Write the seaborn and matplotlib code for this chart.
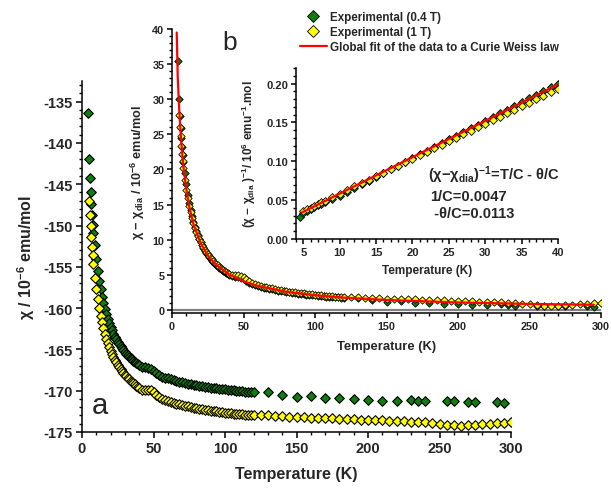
import matplotlib
matplotlib.use("Agg")
import matplotlib.pyplot as plt
from matplotlib.lines import Line2D
from matplotlib.ticker import MultipleLocator, FormatStrFormatter
import pandas as pd
import seaborn as sns

# ---- values ----
# 0.4 T run (green diamonds), T in K, chi in 10^-6 emu/mol
temp_04 = [4.5, 5, 5.5, 6, 6.5, 7, 7.5, 8, 9, 10, 11, 12, 13, 14, 15, 16, 17, 18, 19, 20,
           21, 22, 23, 24, 25, 26, 27, 28, 29, 30, 31, 32, 33, 34, 35, 36, 37, 38, 39, 40,
           42, 44, 46, 48, 50, 52, 54, 56, 58, 60, 62, 64, 66, 68, 70, 72, 74, 76, 78, 80,
           82, 84, 86, 88, 90, 92, 94, 96, 98, 100, 102, 104, 106, 108, 110, 112, 114, 116, 118, 120,
           130, 140, 150, 160, 170, 180, 190, 200, 210, 220, 230, 235, 240, 255, 260, 270, 275, 290, 295]
chi_04 = [-136.4, -141.9, -144.3, -146.0, -147.4, -148.7, -149.9, -150.9, -152.4, -154.0,
          -155.5, -156.7, -157.7, -158.6, -159.4, -160.1, -160.74, -161.31, -161.82, -162.28,
          -162.71, -163.10, -163.45, -163.78, -164.09, -164.37, -164.63, -164.88, -165.11, -165.32,
          -165.52, -165.71, -165.89, -166.06, -166.22, -166.37, -166.51, -166.65, -166.78, -166.90,
          -167.13, -167.19, -167.23, -167.36, -167.57, -167.82, -168.06, -168.29, -168.41, -168.52,
          -168.63, -168.73, -168.82, -168.91, -168.99, -169.07, -169.15, -169.22, -169.28, -169.35,
          -169.41, -169.47, -169.52, -169.58, -169.63, -169.68, -169.72, -169.77, -169.81, -169.85,
          -169.89, -169.93, -169.97, -170.00, -170.03, -170.07, -170.10, -170.13, -170.16, -170.19,
          -170.2, -170.5, -170.8, -170.6, -170.9, -170.9, -171.0, -171.1, -171.2, -171.2,
          -171.1, -171.2, -171.3, -171.3, -171.3, -171.4, -171.4, -171.4, -171.5]

# 1 T run (yellow diamonds)
temp_1 = [5, 5.5, 6, 6.5, 7, 7.5, 8, 9, 10, 11, 12, 13, 14, 15, 16, 17, 18, 19, 20,
          21, 22, 23, 24, 25, 26, 27, 28, 29, 30, 31, 32, 33, 34, 35, 36, 37, 38, 39, 40,
          42, 44, 46, 48, 50, 52, 54, 56, 58, 60, 62, 64, 66, 68, 70, 72, 74, 76, 78, 80,
          82, 84, 86, 88, 90, 92, 94, 96, 98, 100, 102, 104, 106, 108, 110, 112, 114, 116, 118, 120,
          125, 130, 135, 140, 145, 150, 155, 160, 165, 170, 175, 180, 185, 190, 195, 200, 205, 210,
          215, 220, 225, 230, 235, 240, 245, 250, 255, 260, 265, 270, 275, 280, 285, 290, 295, 300]
chi_1 = [-147.0, -148.7, -150.1, -151.4, -152.6, -153.6, -154.6, -156.3, -157.7, -158.9,
         -160.0, -160.9, -161.73, -162.45, -163.10, -163.69, -164.22, -164.70, -165.14,
         -165.54, -165.91, -166.25, -166.57, -166.86, -167.14, -167.39, -167.63, -167.86, -168.07,
         -168.26, -168.45, -168.63, -168.79, -168.95, -169.10, -169.24, -169.38, -169.51, -169.63,
         -169.86, -169.87, -169.86, -169.94, -170.16, -170.46, -170.75, -170.98, -171.16, -171.27,
         -171.38, -171.48, -171.58, -171.67, -171.76, -171.84, -171.91, -171.99, -172.06, -172.12,
         -172.19, -172.25, -172.30, -172.36, -172.41, -172.46, -172.51, -172.56, -172.60, -172.64,
         -172.68, -172.72, -172.76, -172.80, -172.83, -172.87, -172.90, -172.93, -172.96, -172.99,
         -172.95, -173.0, -173.05, -173.1, -173.15, -173.2, -173.2, -173.25, -173.3, -173.3,
         -173.35, -173.4, -173.4, -173.45, -173.5, -173.55, -173.6, -173.6, -173.65, -173.65,
         -173.7, -173.75, -173.8, -173.8, -173.9, -174.0, -174.1, -174.2, -174.3, -174.2,
         -174.1, -174.05, -174.0, -173.95, -173.85, -173.8]

# diamagnetic background removed from each run in panel b
chi_dia_04 = -171.9
chi_dia_1 = -174.8

# Curie-Weiss curve of panel b
fit_temp = [3.3, 4, 5, 6, 7, 8, 10, 12, 15, 20, 25, 30, 40, 50, 60, 80, 100, 120, 150, 200, 250, 295]
fit_chi = [39.5, 33.2, 28.7, 25.3, 22.6, 20.4, 17.2, 14.8, 12.2, 9.5, 7.76, 6.57, 5.02, 4.06,
           3.41, 2.58, 2.08, 1.74, 1.40, 1.05, 0.84, 0.72]
# the same fit as a straight line in the 1/chi inset
fit_inv_temp = [4.8, 40]
fit_inv = [0.034, 0.199]

green = "#117d11"
yellow = "#ffff00"
red = "#ff0000"

sns.set_theme(style="ticks")
plt.rcParams["font.family"] = ["Liberation Sans", "DejaVu Sans"]
plt.rcParams["font.weight"] = "bold"
plt.rcParams["axes.labelweight"] = "bold"
plt.rcParams["axes.unicode_minus"] = False
plt.rcParams["mathtext.fontset"] = "custom"
plt.rcParams["mathtext.rm"] = "Liberation Sans:bold"
plt.rcParams["mathtext.it"] = "Liberation Sans:bold"
plt.rcParams["mathtext.bf"] = "Liberation Sans:bold"
plt.rcParams["axes.linewidth"] = 1.1
plt.rcParams["axes.edgecolor"] = "black"

df04 = pd.DataFrame({"T": temp_04, "chi": chi_04})
df04["dchi"] = df04["chi"] - chi_dia_04
df04["inv"] = 1 / df04["dchi"]
df1 = pd.DataFrame({"T": temp_1, "chi": chi_1})
df1["dchi"] = df1["chi"] - chi_dia_1
df1["inv"] = 1 / df1["dchi"]
fit_df = pd.DataFrame({"T": fit_temp, "dchi": fit_chi})
fit_inv_df = pd.DataFrame({"T": fit_inv_temp, "inv": fit_inv})

W, H = 611, 489
fig = plt.figure(figsize=(W / 100, H / 100), dpi=100)


def box(l, t, r, b):
    return [l / W, 1 - b / H, (r - l) / W, (b - t) / H]


def diamonds(a, d, y, color, s, lw=0.6):
    sns.scatterplot(data=d, x="T", y=y, marker="D", color=color, edgecolor="black",
                    linewidth=lw, s=s, ax=a, legend=False, zorder=3)


def style(a, labelsize, major, minor):
    sns.despine(ax=a)
    a.set_facecolor("none")
    a.tick_params(which="major", direction="out", length=major, width=1.1,
                  labelsize=labelsize, pad=2, color="black")
    a.tick_params(which="minor", direction="out", length=minor, width=1.0, color="black")
    a.minorticks_on()


# main panel a
ax = fig.add_axes(box(82, 82, 511, 433))
diamonds(ax, df04, "chi", green, 24, 0.8)
diamonds(ax, df1, "chi", yellow, 24, 0.8)
ax.set_xlim(0, 300)
ax.set_ylim(-175, -132.5)
ax.xaxis.set_major_locator(MultipleLocator(50))
ax.xaxis.set_minor_locator(MultipleLocator(25))
ax.yaxis.set_major_locator(MultipleLocator(5))
ax.yaxis.set_minor_locator(MultipleLocator(2.5))
style(ax, 10.5, 4.5, 2.5)
ax.set_xlabel("Temperature (K)", fontsize=11.5, labelpad=8)
ax.set_ylabel(r"χ / 10$^{-6}$ emu/mol", fontsize=11.5, labelpad=5)

# inset b
axb = fig.add_axes(box(172, 30, 601, 314))
axb.axhline(0, color="#808080", lw=1.6, zorder=1)
diamonds(axb, df04, "dchi", green, 14)
diamonds(axb, df1, "dchi", yellow, 14)
sns.lineplot(data=fit_df, x="T", y="dchi", color=red, lw=1.6, ax=axb, zorder=4)
axb.set_xlim(0, 300)
axb.set_ylim(-0.45, 40)
axb.xaxis.set_major_locator(MultipleLocator(50))
axb.xaxis.set_minor_locator(MultipleLocator(25))
axb.yaxis.set_major_locator(MultipleLocator(5))
axb.yaxis.set_minor_locator(MultipleLocator(2.5))
style(axb, 7.8, 3.5, 2)
axb.set_xlabel("Temperature (K)", fontsize=9.4, labelpad=7)
axb.set_ylabel(r"χ − χ$_{\rm dia}$ / 10$^{-6}$ emu/mol", fontsize=9.2, labelpad=4)

# inner inset, inverse susceptibility
axc = fig.add_axes(box(296, 69, 558, 240))
diamonds(axc, df04[df04["T"] <= 40], "inv", green, 16)
diamonds(axc, df1[df1["T"] <= 40], "inv", yellow, 16)
sns.lineplot(data=fit_inv_df, x="T", y="inv", color=red, lw=1.6, ax=axc, zorder=4)
axc.set_xlim(4, 40)
axc.set_ylim(0, 0.22)
axc.xaxis.set_major_locator(MultipleLocator(5))
axc.xaxis.set_minor_locator(MultipleLocator(2.5))
axc.yaxis.set_major_locator(MultipleLocator(0.05))
axc.yaxis.set_minor_locator(MultipleLocator(0.025))
axc.yaxis.set_major_formatter(FormatStrFormatter("%.2f"))
style(axc, 8, 3.5, 2)
axc.set_xlabel("Temperature (K)", fontsize=8.5, labelpad=5)
axc.set_ylabel(r"(χ − χ$_{\rm dia}$ )$^{-1}$/ 10$^{6}$ emu$^{-1}$.mol", fontsize=8.5, labelpad=6)

fig.text(428 / W, 1 - 175 / H, r"(χ−χ$_{\rm dia}$)$^{-1}$=T/C - θ/C", fontsize=10.5, va="center")
fig.text(430 / W, 1 - 197 / H, "1/C=0.0047", fontsize=10.5, va="center")
fig.text(430 / W, 1 - 214 / H, " -θ/C=0.0113", fontsize=10.5, va="center")

fig.text(92 / W, 1 - 414 / H, "a", fontsize=21, fontweight="normal", va="baseline")
fig.text(222 / W, 1 - 50 / H, "b", fontsize=19, fontweight="normal", va="baseline")

handles = [
    Line2D([], [], ls="none", marker="D", ms=5.8, mfc=green, mec="black", mew=0.6),
    Line2D([], [], ls="none", marker="D", ms=5.8, mfc=yellow, mec="black", mew=0.6),
    Line2D([], [], color=red, lw=1.6),
]
labels = ["Experimental (0.4 T)", "Experimental (1 T)",
          "Global fit of the data to a Curie Weiss law"]
fig.legend(handles, labels, loc="upper left", bbox_to_anchor=(300 / W, 1 - 12 / H),
           frameon=False, fontsize=8.4, handlelength=2.3, handletextpad=0.3,
           labelspacing=0.25, borderpad=0, borderaxespad=0)

fig.savefig("out.png", dpi=100, facecolor="white")
